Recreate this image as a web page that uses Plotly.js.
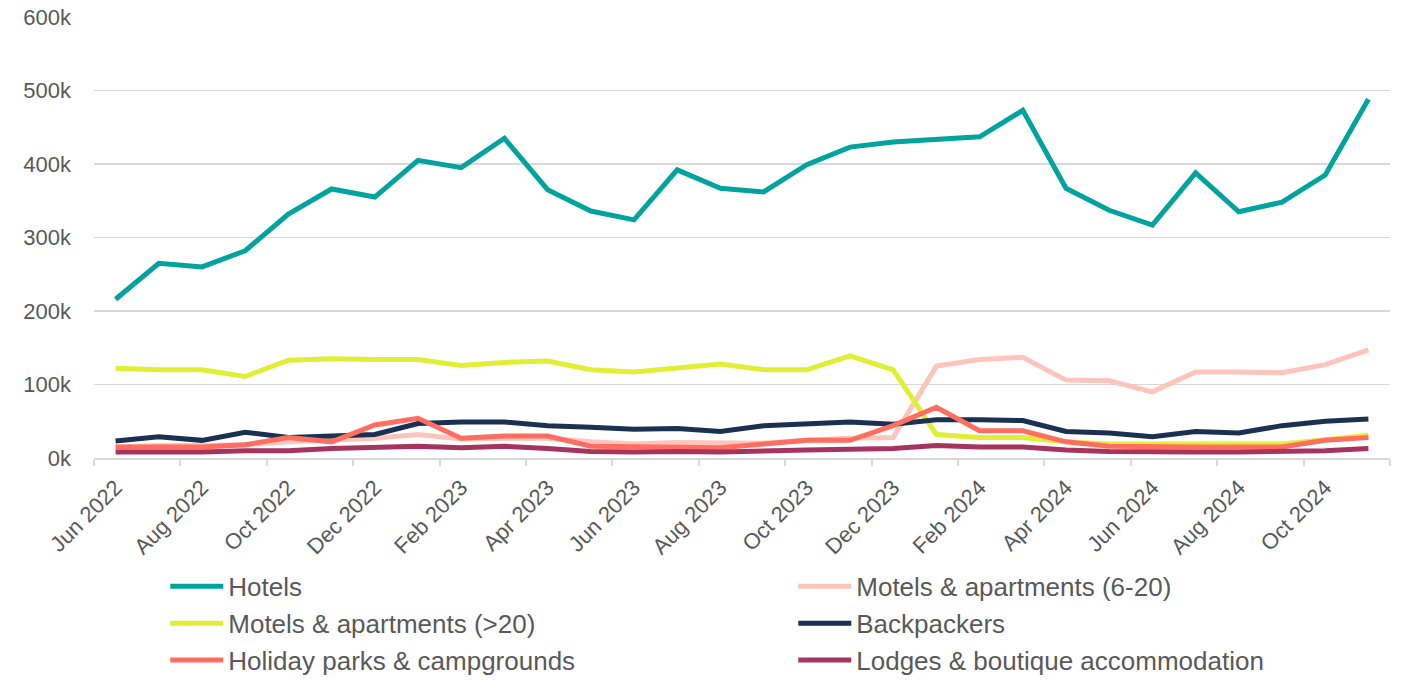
<!DOCTYPE html>
<html>
<head>
<meta charset="utf-8">
<script src="https://cdn.plot.ly/plotly-3.0.1.min.js"></script>
<style>
html,body{margin:0;padding:0;background:#fff;}
#chart{width:1402px;height:680px;}
</style>
</head>
<body>
<div id="chart"></div>
<script>
const months = ["Jun 2022","Jul 2022","Aug 2022","Sep 2022","Oct 2022","Nov 2022","Dec 2022",
  "Jan 2023","Feb 2023","Mar 2023","Apr 2023","May 2023","Jun 2023","Jul 2023","Aug 2023","Sep 2023","Oct 2023","Nov 2023","Dec 2023",
  "Jan 2024","Feb 2024","Mar 2024","Apr 2024","May 2024","Jun 2024","Jul 2024","Aug 2024","Sep 2024","Oct 2024","Nov 2024"];

const hotels = [216000,265000,260000,282000,332000,366000,355000,405000,395000,435000,365000,336000,324000,392000,367000,362000,399000,423000,430000,434000,437000,473000,367000,337000,317000,388000,335000,348000,385000,488000];
const motelsSmall = [15000,17000,17000,18000,22000,24000,27000,32000,26000,27000,27000,22000,19000,21000,20000,20000,24000,27000,28000,125000,134000,137000,106000,105000,90000,117000,117000,116000,127000,147000];
const motelsLarge = [122000,120000,120000,111000,133000,135000,134000,134000,126000,130000,132000,120000,117000,123000,128000,120000,120000,139000,120000,32000,28000,28000,22000,19000,19000,19000,19000,19000,25000,31000];
const backpackers = [23000,29000,24000,35000,28000,30000,32000,47000,49000,49000,44000,42000,39000,40000,36000,44000,46000,49000,46000,52000,52000,51000,36000,34000,29000,36000,34000,44000,50000,53000];
const holidayParks = [15000,15000,15000,18000,28000,22000,45000,54000,27000,30000,30000,16000,15000,15000,14000,19000,24000,24000,44000,69000,37000,37000,22000,16000,15000,15000,15000,15000,24000,28000];
const lodges = [8000,8000,8000,10000,10000,13000,15000,16000,14000,16000,13000,9000,8000,9000,8000,10000,11000,12000,13000,17000,15000,15000,11000,9000,8000,8000,8000,9000,10000,13000];

const seriesNames = ["Hotels","Motels & apartments (6-20)","Motels & apartments (>20)","Backpackers","Holiday parks & campgrounds","Lodges & boutique accommodation"];
const seriesColors = ["#00A39E","#FFC4BC","#E2EE35","#1B3151","#FF6E60","#A7345F"];
const seriesValues = [hotels, motelsSmall, motelsLarge, backpackers, holidayParks, lodges];

const yTickVals = [0,100000,200000,300000,400000,500000,600000];
const yTickText = ["0k","100k","200k","300k","400k","500k","600k"];

const xIdx = months.map((m,i)=>i);
const xTickVals = xIdx.filter(i=>i%2===0);
const xTickText = xTickVals.map(i=>months[i]);

const traces = seriesValues.map((vals,k)=>({
  type:"scatter", mode:"lines", x:xIdx, y:vals, name:seriesNames[k],
  line:{color:seriesColors[k], width:5, shape:"linear"}
}));

const font = "'Liberation Sans', Arial, sans-serif";
const layout = {
  width:1402, height:680,
  margin:{l:94, r:12, t:17, b:222, autoexpand:false},
  paper_bgcolor:"#ffffff", plot_bgcolor:"#ffffff",
  font:{family:font, color:"#595959", size:22},
  showlegend:true,
  legend:{orientation:"h", x:0.055, xanchor:"left", y:-0.238, yanchor:"top",
    entrywidth:560, entrywidthmode:"pixels", font:{size:26, color:"#595959", family:font},
    itemwidth:53, bgcolor:"rgba(0,0,0,0)"},
  xaxis:{range:[-0.5,29.5], tickvals:xTickVals, ticktext:xTickText, tickangle:-45,
    ticks:"", showgrid:false, zeroline:false, showline:true, linecolor:"#d9d9d9", linewidth:2,
    tickfont:{size:22, color:"#595959"}, ticklabelstandoff:6,
    minor:{tick0:-0.5, dtick:2, ticks:"outside", ticklen:6, tickwidth:2, tickcolor:"#d9d9d9", showgrid:false}},
  yaxis:{range:[0,600000], tickvals:yTickVals, ticktext:yTickText, showgrid:true, gridcolor:"#d9d9d9",
    gridwidth:1.5, zeroline:false, showline:false, ticks:"", tickfont:{size:22, color:"#595959"},
    ticklabelstandoff:22}
};

Plotly.newPlot("chart", traces, layout, {displayModeBar:false, staticPlot:true});
</script>
</body>
</html>
